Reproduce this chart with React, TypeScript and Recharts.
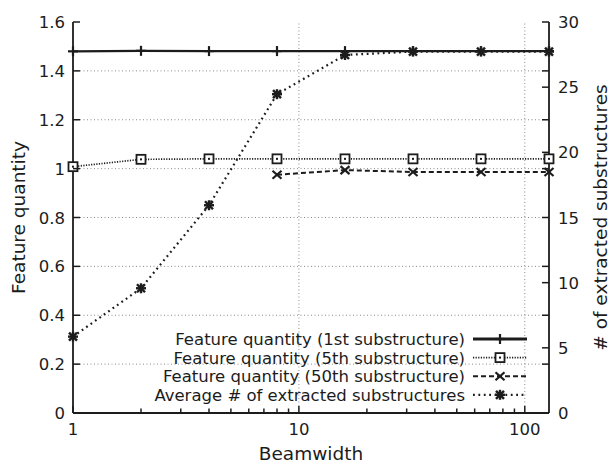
import React from 'react';
import { LineChart, Line, XAxis, YAxis, ReferenceLine } from 'recharts';

// Beamwidth values (x, log scale)
const beamwidths = [1, 2, 4, 8, 16, 32, 64, 128];
// Feature quantity, left axis
const firstSub = [1.48, 1.482, 1.481, 1.481, 1.481, 1.481, 1.481, 1.481];
const fifthSub = [1.008, 1.038, 1.04, 1.04, 1.04, 1.04, 1.04, 1.04];
const fiftiethSub = [null, null, null, 0.975, 0.994, 0.986, 0.986, 0.986];
// Average number of extracted substructures, right axis
const avgExtracted = [5.86, 9.57, 15.94, 24.46, 27.47, 27.73, 27.73, 27.73];

const xTicks = [1, 2, 3, 4, 5, 6, 7, 8, 9, 10, 20, 30, 40, 50, 60, 70, 80, 90, 100];
const xLabeled = [1, 10, 100];
const leftTicks = [0, 0.2, 0.4, 0.6, 0.8, 1, 1.2, 1.4, 1.6];
const rightLabeled = [0, 5, 10, 15, 20, 25, 30];
const gridY = [0.2, 0.4, 0.6, 0.8, 1, 1.2, 1.4];
const gridX = [10, 100];

const legendItems = [
  { label: 'Feature quantity (1st substructure)', kind: 'first' },
  { label: 'Feature quantity (5th substructure)', kind: 'fifth' },
  { label: 'Feature quantity (50th substructure)', kind: 'fiftieth' },
  { label: 'Average # of extracted substructures', kind: 'avg' },
];

const data = beamwidths.map((bw, i) => ({
  bw,
  first: firstSub[i],
  fifth: fifthSub[i],
  fiftieth: fiftiethSub[i],
  avg: avgExtracted[i],
}));

// right axis also carries the left axis ticks (mirrored)
const rightTicks = Array.from(new Set([...rightLabeled, ...leftTicks.map((v) => +(v * 30 / 1.6).toFixed(4))])).sort((a, b) => a - b);

const INK = '#1c1c1c';
const FONT = '"DejaVu Sans", Arial, sans-serif';
const TICK_FS = 16.5;
const TITLE_FS = 18.5;
const LEGEND_FS = 16.5;

const lineStyle: Record<string, { dash?: string; width: number }> = {
  first: { width: 2.2 },
  fifth: { dash: '1.2 1.4', width: 1.7 },
  fiftieth: { dash: '5 3', width: 2 },
  avg: { dash: '1.8 3.6', width: 2.2 },
};

const Marker = ({ kind, cx, cy }: { kind: string; cx: number; cy: number }) => {
  if (cx == null || cy == null || isNaN(cx) || isNaN(cy)) return null;
  const s = 5;
  if (kind === 'first') {
    return (
      <g stroke={INK} strokeWidth={2.2}>
        <line x1={cx - s} y1={cy} x2={cx + s} y2={cy} />
        <line x1={cx} y1={cy - s} x2={cx} y2={cy + s} />
      </g>
    );
  }
  if (kind === 'fifth') {
    return (
      <g>
        <rect x={cx - 4.5} y={cy - 4.5} width={9} height={9} fill="#fff" stroke={INK} strokeWidth={1.8} />
        <rect x={cx - 1} y={cy - 1} width={2} height={2} fill={INK} />
      </g>
    );
  }
  if (kind === 'fiftieth') {
    return (
      <g stroke={INK} strokeWidth={2.2}>
        <line x1={cx - 4.5} y1={cy - 4} x2={cx + 4.5} y2={cy + 4} />
        <line x1={cx - 4.5} y1={cy + 4} x2={cx + 4.5} y2={cy - 4} />
      </g>
    );
  }
  return (
    <g stroke={INK} strokeWidth={2.4}>
      <line x1={cx - s} y1={cy} x2={cx + s} y2={cy} />
      <line x1={cx} y1={cy - s} x2={cx} y2={cy + s} />
      <line x1={cx - 4} y1={cy - 4} x2={cx + 4} y2={cy + 4} />
      <line x1={cx - 4} y1={cy + 4} x2={cx + 4} y2={cy - 4} />
    </g>
  );
};

const BottomTick = (props: any) => {
  const { x, y, payload } = props;
  const v = payload.value;
  const major = xLabeled.includes(v);
  return (
    <g>
      <line x1={x} y1={y} x2={x} y2={y - (major ? 7 : 4.5)} stroke={INK} strokeWidth={1.5} />
      {major && (
        <text x={x} y={y + 22} textAnchor="middle" fontSize={TICK_FS} fill={INK} fontFamily={FONT}>
          {v}
        </text>
      )}
    </g>
  );
};

const TopTick = (props: any) => {
  const { x, y, payload } = props;
  const major = xLabeled.includes(payload.value);
  return <line x1={x} y1={y} x2={x} y2={y + (major ? 7 : 4.5)} stroke={INK} strokeWidth={1.5} />;
};

const LeftTick = (props: any) => {
  const { x, y, payload } = props;
  return (
    <g>
      <line x1={x} y1={y} x2={x + 7} y2={y} stroke={INK} strokeWidth={1.5} />
      <text x={x - 8} y={y + 6} textAnchor="end" fontSize={TICK_FS} fill={INK} fontFamily={FONT}>
        {String(+payload.value.toFixed(1))}
      </text>
    </g>
  );
};

const RightTick = (props: any) => {
  const { x, y, payload } = props;
  const v = payload.value;
  const labeled = rightLabeled.includes(v);
  return (
    <g>
      <line x1={x} y1={y} x2={x - 7} y2={y} stroke={INK} strokeWidth={1.5} />
      {labeled && (
        <text x={x + 9} y={y + 6} textAnchor="start" fontSize={TICK_FS} fill={INK} fontFamily={FONT}>
          {v}
        </text>
      )}
    </g>
  );
};

const LegendBox = () => (
  <svg width={609} height={465} style={{ position: 'absolute', left: 0, top: 0, pointerEvents: 'none' }}>
    {legendItems.map((item, i) => {
      const y = 339 + i * 18.6;
      const st = lineStyle[item.kind];
      return (
        <g key={item.kind}>
          <text x={465} y={y + 6} textAnchor="end" fontSize={LEGEND_FS} fill={INK} fontFamily={FONT}>
            {item.label}
          </text>
          <line x1={473} y1={y} x2={527} y2={y} stroke={INK} strokeWidth={item.kind === 'first' ? 3 : st.width} strokeDasharray={st.dash} />
          <Marker kind={item.kind} cx={500} cy={y} />
        </g>
      );
    })}
  </svg>
);

const App: React.FC = () => {
  return (
    <div style={{ position: 'absolute', left: 0, top: 0, width: 609, height: 465, background: '#fff' }}>
      <LineChart width={609} height={465} data={data} margin={{ top: 22, right: 0, bottom: 0, left: 0 }}>
        <XAxis
          xAxisId="bottom"
          dataKey="bw"
          type="number"
          scale="log"
          domain={[1, 128]}
          ticks={xTicks}
          interval={0}
          height={52}
          tickSize={0}
          tickMargin={0}
          tickLine={false}
          tick={<BottomTick />}
          axisLine={{ stroke: INK, strokeWidth: 1.8 }}
          label={{
            content: ({ viewBox }: any) => (
              <text x={viewBox.x + viewBox.width / 2} y={viewBox.y + 47} textAnchor="middle" fontSize={TITLE_FS} fill={INK} fontFamily={FONT}>
                Beamwidth
              </text>
            ),
          }}
        />
        <XAxis
          xAxisId="top"
          orientation="top"
          dataKey="bw"
          type="number"
          scale="log"
          domain={[1, 128]}
          ticks={xTicks}
          interval={0}
          height={0}
          tickSize={0}
          tickMargin={0}
          tickLine={false}
          tick={<TopTick />}
          axisLine={{ stroke: INK, strokeWidth: 1.8 }}
        />
        <YAxis
          yAxisId="left"
          domain={[0, 1.6]}
          ticks={leftTicks}
          interval={0}
          width={73}
          tickSize={0}
          tickMargin={0}
          tickLine={false}
          tick={<LeftTick />}
          axisLine={{ stroke: INK, strokeWidth: 1.8 }}
          label={{
            content: ({ viewBox }: any) => {
              const cx = viewBox.x + 18;
              const cy = viewBox.y + viewBox.height / 2;
              return (
                <text x={cx} y={cy} transform={`rotate(-90 ${cx} ${cy})`} textAnchor="middle" dominantBaseline="central" fontSize={TITLE_FS} fill={INK} fontFamily={FONT}>
                  Feature quantity
                </text>
              );
            },
          }}
        />
        <YAxis
          yAxisId="right"
          orientation="right"
          domain={[0, 30]}
          ticks={rightTicks}
          interval={0}
          width={60}
          tickSize={0}
          tickMargin={0}
          tickLine={false}
          tick={<RightTick />}
          axisLine={{ stroke: INK, strokeWidth: 1.8 }}
          label={{
            content: ({ viewBox }: any) => {
              const cx = viewBox.x + 51;
              const cy = viewBox.y + viewBox.height / 2;
              return (
                <text x={cx} y={cy} transform={`rotate(-90 ${cx} ${cy})`} textAnchor="middle" dominantBaseline="central" fontSize={TITLE_FS} fill={INK} fontFamily={FONT}>
                  # of extracted substructures
                </text>
              );
            },
          }}
        />
        {gridY.map((v) => (
          <ReferenceLine key={'gy' + v} xAxisId="bottom" yAxisId="left" y={v} stroke="#8a8a8a" strokeDasharray="1 2.5" strokeWidth={1} />
        ))}
        {gridX.map((v) => (
          <ReferenceLine key={'gx' + v} xAxisId="bottom" yAxisId="left" x={v} stroke="#8a8a8a" strokeDasharray="1 2.5" strokeWidth={1} />
        ))}
        <Line
          xAxisId="bottom"
          yAxisId="left"
          dataKey="first"
          stroke={INK}
          strokeWidth={lineStyle.first.width}
          dot={(p: any) => <Marker key={'a' + p.index} kind="first" cx={p.cx} cy={p.cy} />}
          isAnimationActive={false}
        />
        <Line
          xAxisId="bottom"
          yAxisId="left"
          dataKey="fifth"
          stroke={INK}
          strokeWidth={lineStyle.fifth.width}
          strokeDasharray={lineStyle.fifth.dash}
          dot={(p: any) => <Marker key={'b' + p.index} kind="fifth" cx={p.cx} cy={p.cy} />}
          isAnimationActive={false}
        />
        <Line
          xAxisId="bottom"
          yAxisId="left"
          dataKey="fiftieth"
          stroke={INK}
          strokeWidth={lineStyle.fiftieth.width}
          strokeDasharray={lineStyle.fiftieth.dash}
          dot={(p: any) => <Marker key={'c' + p.index} kind="fiftieth" cx={p.cx} cy={p.cy} />}
          isAnimationActive={false}
        />
        <Line
          xAxisId="bottom"
          yAxisId="right"
          dataKey="avg"
          stroke={INK}
          strokeWidth={lineStyle.avg.width}
          strokeDasharray={lineStyle.avg.dash}
          dot={(p: any) => <Marker key={'d' + p.index} kind="avg" cx={p.cx} cy={p.cy} />}
          isAnimationActive={false}
        />
      </LineChart>
      <LegendBox />
    </div>
  );
};

export default App;
